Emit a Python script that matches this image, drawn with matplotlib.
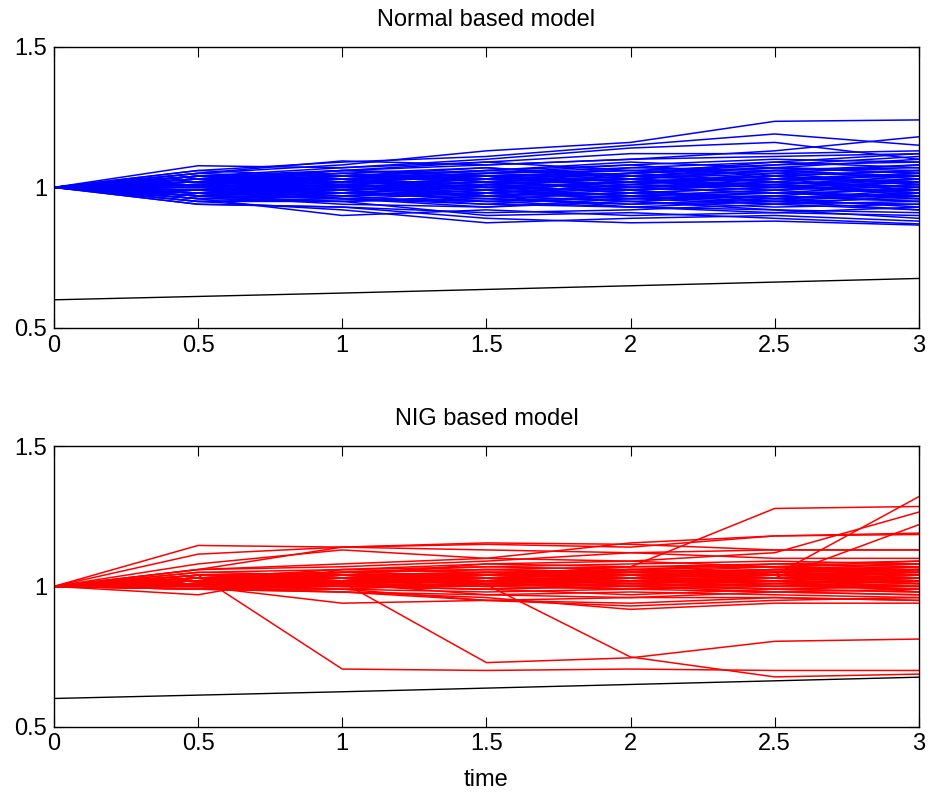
import matplotlib
matplotlib.use("Agg")
import matplotlib.pyplot as plt

# time grid and black reference curve
t = [0, 0.5, 1, 1.5, 2, 2.5, 3]
barrier = [0.600, 0.612, 0.624, 0.637, 0.650, 0.663, 0.676]

# simulated paths, Normal based model
normal_paths = [
    [1, 1.05, 1.08, 1.13, 1.16, 1.235, 1.24],
    [1, 1.06, 1.09, 1.11, 1.15, 1.19, 1.15],
    [1, 1.04, 1.07, 1.10, 1.14, 1.16, 1.10],
    [1, 1.03, 1.06, 1.08, 1.10, 1.13, 1.18],
    [1, 1.077, 1.07, 1.09, 1.12, 1.12, 1.13],
    [1, 1.05, 1.094, 1.08, 1.10, 1.11, 1.12],
    [1, 1.02, 1.04, 1.06, 1.08, 1.10, 1.09],
    [1, 1.01, 1.03, 1.05, 1.07, 1.06, 1.08],
    [1, 1.04, 1.02, 1.04, 1.06, 1.08, 1.11],
    [1, 0.98, 1.01, 1.03, 1.05, 1.07, 1.06],
    [1, 1.02, 1.05, 1.02, 1.03, 1.05, 1.04],
    [1, 1.03, 1.00, 1.01, 1.04, 1.02, 1.05],
    [1, 0.99, 1.02, 1.00, 1.02, 1.04, 1.02],
    [1, 1.01, 0.99, 1.02, 1.00, 1.01, 1.03],
    [1, 0.97, 0.98, 1.00, 0.99, 1.02, 1.00],
    [1, 1.00, 1.01, 0.98, 1.01, 0.99, 1.01],
    [1, 0.96, 0.97, 0.99, 0.97, 0.98, 0.99],
    [1, 1.02, 1.00, 0.97, 0.98, 0.96, 0.97],
    [1, 0.98, 0.96, 0.95, 0.96, 0.97, 0.95],
    [1, 0.95, 0.95, 0.96, 0.94, 0.95, 0.96],
    [1, 0.97, 0.94, 0.93, 0.95, 0.93, 0.94],
    [1, 0.94, 0.93, 0.91, 0.92, 0.94, 0.92],
    [1, 0.96, 0.90, 0.92, 0.90, 0.91, 0.90],
    [1, 0.95, 0.92, 0.874, 0.89, 0.90, 0.88],
    [1, 0.94, 0.93, 0.89, 0.874, 0.88, 0.866],
    [1, 0.97, 0.95, 0.90, 0.91, 0.89, 0.87],
    [1, 0.99, 0.97, 0.94, 0.93, 0.92, 0.89],
    [1, 1.01, 0.98, 0.96, 0.94, 0.96, 0.93],
    [1, 1.03, 1.01, 0.99, 0.97, 0.94, 0.95],
    [1, 1.00, 1.03, 1.04, 1.00, 0.98, 0.96],
    [1, 1.04, 1.05, 1.07, 1.03, 1.00, 0.98],
    [1, 1.02, 1.06, 1.05, 1.08, 1.04, 1.01],
    [1, 0.98, 1.00, 1.03, 1.05, 1.09, 1.07],
    [1, 1.05, 1.03, 1.00, 1.02, 1.03, 0.99],
    [1, 0.99, 0.97, 0.98, 1.01, 1.04, 1.06],
    [1, 0.97, 0.99, 1.01, 0.98, 1.00, 1.03],
    [1, 1.01, 1.03, 0.99, 0.96, 0.97, 1.00],
    [1, 1.03, 1.04, 1.02, 0.99, 1.01, 0.97],
    [1, 0.96, 0.95, 0.97, 0.99, 0.96, 0.98],
    [1, 1.00, 0.98, 1.01, 1.03, 1.06, 1.04],
    [1, 1.06, 1.04, 1.06, 1.04, 1.07, 1.05],
    [1, 0.98, 1.01, 0.97, 0.95, 0.92, 0.91],
    [1, 1.02, 0.99, 0.95, 0.97, 0.99, 1.02],
    [1, 0.99, 1.02, 1.05, 1.06, 1.03, 1.04],
    [1, 1.01, 1.04, 1.03, 1.01, 1.05, 1.08],
    [1, 0.95, 0.96, 0.93, 0.96, 0.98, 0.97],
    [1, 1.04, 1.01, 1.03, 1.07, 1.09, 1.12],
    [1, 0.97, 1.00, 1.02, 0.99, 0.95, 0.94],
    [1, 1.00, 0.96, 0.95, 0.93, 0.91, 0.93],
    [1, 1.03, 1.06, 1.09, 1.06, 1.05, 1.01],
    [1, 1.02, 1.01, 1.03, 1.01, 1.00, 1.02],
    [1, 0.99, 1.01, 0.99, 1.02, 1.03, 1.05],
    [1, 1.01, 1.00, 1.02, 1.04, 1.02, 0.99],
    [1, 0.98, 0.99, 1.01, 1.00, 0.98, 1.01],
    [1, 1.00, 1.02, 1.00, 0.99, 1.01, 0.98],
    [1, 1.03, 1.02, 1.04, 1.02, 1.04, 1.06],
    [1, 0.97, 1.01, 1.00, 0.97, 0.99, 0.96],
    [1, 1.02, 1.03, 1.01, 1.03, 1.06, 1.03],
    [1, 0.99, 0.98, 0.96, 0.98, 1.00, 0.99],
    [1, 1.01, 1.02, 1.04, 1.05, 1.02, 1.00],
    [1, 0.98, 0.97, 0.99, 1.02, 1.01, 1.04],
    [1, 1.04, 1.03, 1.05, 1.03, 1.01, 1.03],
    [1, 1.00, 0.99, 0.97, 1.00, 1.03, 1.02],
    [1, 0.96, 0.98, 0.97, 0.95, 0.97, 0.95],
    [1, 1.02, 1.04, 1.07, 1.04, 1.06, 1.07],
    [1, 0.98, 0.96, 0.98, 0.96, 0.94, 0.97],
    [1, 1.01, 0.99, 1.01, 0.98, 0.96, 0.99],
    [1, 1.03, 1.05, 1.03, 1.05, 1.08, 1.09],
    [1, 0.99, 1.00, 0.98, 1.00, 1.02, 1.00],
    [1, 1.00, 1.02, 1.04, 1.02, 1.00, 1.02],
    [1, 0.97, 0.96, 0.94, 0.97, 0.95, 0.92],
    [1, 1.02, 1.00, 1.02, 1.05, 1.07, 1.05],
    [1, 1.01, 1.03, 1.06, 1.09, 1.07, 1.10],
    [1, 0.98, 1.00, 0.97, 0.93, 0.95, 0.98],
    [1, 1.04, 1.06, 1.04, 1.02, 1.04, 1.01],
]

# simulated paths, NIG based model
nig_paths = [
    [1, 1.04, 0.705, 0.70, 0.705, 0.70, 0.70],
    [1, 1.01, 1.015, 0.728, 0.745, 0.804, 0.812],
    [1, 1.02, 1.03, 1.006, 0.748, 0.677, 0.687],
    [1, 1.03, 1.05, 1.04, 1.07, 1.278, 1.285],
    [1, 1.02, 1.04, 1.05, 1.06, 1.04, 1.32],
    [1, 1.06, 1.08, 1.10, 1.09, 1.12, 1.265],
    [1, 1.03, 1.05, 1.06, 1.05, 1.03, 1.22],
    [1, 1.146, 1.14, 1.155, 1.15, 1.13, 1.13],
    [1, 1.115, 1.14, 1.15, 1.14, 1.18, 1.185],
    [1, 1.08, 1.13, 1.10, 1.155, 1.18, 1.19],
    [1, 1.06, 1.14, 1.13, 1.12, 1.13, 1.13],
    [1, 0.97, 1.06, 1.08, 1.07, 1.08, 1.09],
    [1, 1.06, 1.07, 1.09, 1.12, 1.10, 1.10],
    [1, 1.05, 1.06, 1.07, 1.08, 1.09, 1.08],
    [1, 1.04, 1.05, 1.06, 1.07, 1.07, 1.09],
    [1, 1.03, 1.04, 1.05, 1.05, 1.06, 1.07],
    [1, 1.02, 1.03, 1.04, 1.04, 1.05, 1.06],
    [1, 1.03, 1.03, 1.03, 1.05, 1.04, 1.05],
    [1, 1.02, 1.02, 1.04, 1.03, 1.05, 1.04],
    [1, 1.01, 1.03, 1.02, 1.04, 1.03, 1.03],
    [1, 1.02, 1.02, 1.03, 1.02, 1.04, 1.02],
    [1, 1.01, 1.02, 1.02, 1.03, 1.02, 1.03],
    [1, 1.02, 1.01, 1.03, 1.02, 1.03, 1.01],
    [1, 1.01, 1.02, 1.01, 1.02, 1.01, 1.02],
    [1, 1.00, 1.01, 1.02, 1.01, 1.02, 1.00],
    [1, 1.01, 1.00, 1.01, 1.00, 1.01, 0.99],
    [1, 1.00, 1.00, 1.00, 1.01, 1.00, 1.01],
    [1, 0.99, 1.00, 0.99, 1.00, 0.99, 0.98],
    [1, 1.00, 0.99, 0.98, 0.99, 0.98, 0.97],
    [1, 0.99, 0.98, 0.97, 0.98, 0.97, 0.96],
    [1, 1.00, 0.94, 0.95, 0.96, 0.96, 0.95],
    [1, 0.99, 0.98, 0.96, 0.918, 0.94, 0.94],
    [1, 1.01, 0.99, 0.95, 0.93, 0.95, 0.96],
    [1, 1.00, 0.98, 0.95, 0.94, 0.96, 0.95],
    [1, 1.02, 1.01, 0.97, 0.96, 0.98, 0.97],
    [1, 1.01, 1.00, 0.99, 0.97, 0.99, 0.98],
    [1, 1.03, 1.02, 1.00, 0.99, 1.00, 1.00],
    [1, 1.02, 1.04, 1.01, 1.00, 1.02, 1.01],
    [1, 1.04, 1.03, 1.02, 1.03, 1.04, 1.03],
    [1, 1.05, 1.04, 1.04, 1.06, 1.05, 1.04],
    [1, 1.03, 1.06, 1.05, 1.04, 1.06, 1.06],
    [1, 1.02, 1.05, 1.07, 1.06, 1.08, 1.07],
    [1, 1.01, 1.04, 1.08, 1.09, 1.07, 1.08],
    [1, 1.00, 1.02, 1.03, 1.01, 1.03, 1.05],
    [1, 1.01, 1.01, 1.02, 1.03, 1.01, 1.02],
    [1, 1.02, 1.03, 1.01, 1.02, 1.03, 1.04],
    [1, 1.03, 1.02, 1.04, 1.06, 1.07, 1.06],
    [1, 1.00, 1.03, 1.02, 1.03, 1.05, 1.03],
    [1, 0.99, 1.01, 1.00, 1.02, 1.03, 1.01],
    [1, 1.01, 1.02, 1.03, 1.01, 0.99, 1.00],
    [1, 1.02, 1.04, 1.03, 1.05, 1.06, 1.05],
    [1, 1.01, 1.01, 1.03, 1.04, 1.04, 1.06],
    [1, 1.03, 1.04, 1.04, 1.03, 1.05, 1.07],
    [1, 1.02, 1.02, 1.02, 1.04, 1.06, 1.08],
    [1, 1.00, 1.02, 1.04, 1.05, 1.04, 1.03],
    [1, 1.01, 1.03, 1.03, 1.02, 1.02, 1.04],
    [1, 1.02, 1.01, 1.02, 1.01, 1.03, 1.02],
    [1, 1.03, 1.03, 1.05, 1.04, 1.03, 1.02],
    [1, 1.01, 1.00, 1.01, 1.03, 1.05, 1.06],
    [1, 1.00, 1.01, 1.00, 1.02, 1.00, 0.99],
    [1, 1.02, 1.03, 1.02, 1.00, 1.01, 1.03],
    [1, 1.04, 1.05, 1.06, 1.05, 1.07, 1.05],
    [1, 1.01, 1.02, 1.04, 1.06, 1.05, 1.07],
    [1, 0.99, 0.99, 1.01, 0.99, 1.01, 1.00],
    [1, 1.02, 1.04, 1.02, 1.03, 1.02, 0.98],
    [1, 1.03, 1.02, 1.01, 1.03, 1.04, 1.05],
    [1, 1.01, 1.03, 1.05, 1.03, 1.06, 1.04],
    [1, 1.02, 1.00, 0.99, 1.01, 1.00, 1.02],
    [1, 1.04, 1.04, 1.03, 1.04, 1.03, 1.06],
    [1, 1.00, 1.02, 1.01, 1.00, 0.98, 0.99],
]

plt.rcParams["font.family"] = ["Liberation Sans", "DejaVu Sans"]
plt.rcParams["font.size"] = 17

fig = plt.figure(figsize=(9.3, 7.94), dpi=100)
ax1 = fig.add_axes([0.058, 0.587, 0.930, 0.354])
ax2 = fig.add_axes([0.058, 0.085, 0.930, 0.353])

for p in normal_paths:
    ax1.plot(t, p, color="blue", lw=1.1)
ax1.plot(t, barrier, color="black", lw=1.0)
ax1.set_title("Normal based model", fontsize=17, pad=15)

for p in nig_paths:
    ax2.plot(t, p, color="red", lw=1.1)
ax2.plot(t, barrier, color="black", lw=1.0)
ax2.set_title("NIG based model", fontsize=17, pad=15)
ax2.set_xlabel("time", fontsize=17, labelpad=10)

for ax in (ax1, ax2):
    ax.set_xlim(0, 3)
    ax.set_ylim(0.5, 1.5)
    ax.set_xticks(t)
    ax.set_xticklabels(["0", "0.5", "1", "1.5", "2", "2.5", "3"])
    ax.set_yticks([0.5, 1, 1.5])
    ax.set_yticklabels(["0.5", "1", "1.5"])
    ax.tick_params(direction="in", top=True, right=True, length=7, labelsize=17, pad=5)
    for s in ax.spines.values():
        s.set_linewidth(1.0)

fig.savefig("out.png", dpi=100)
